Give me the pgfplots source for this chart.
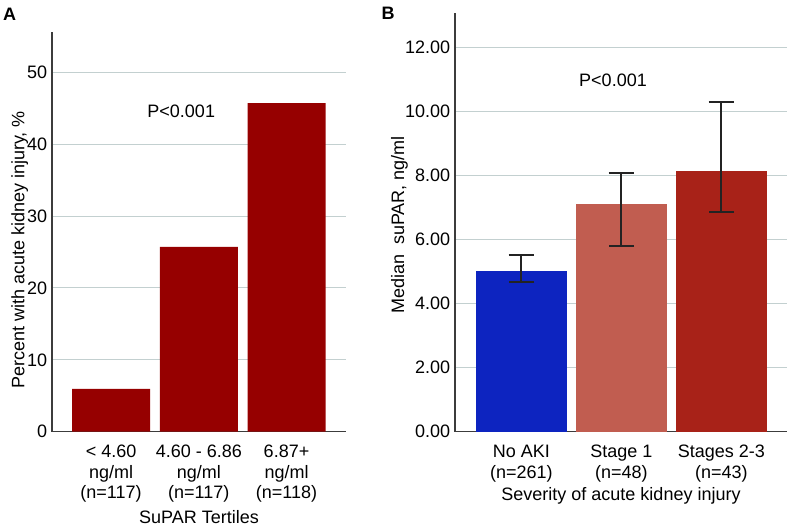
\documentclass[border=0pt]{standalone}
\usepackage{fontspec}
\setmainfont{Liberation Sans}
\usepackage{pgfplots}
\pgfplotsset{compat=1.18}
\definecolor{barA}{RGB}{150,0,0}
\definecolor{noaki}{RGB}{13,36,192}
\definecolor{stageone}{RGB}{193,93,80}
\definecolor{stagetwo}{RGB}{168,34,24}
\definecolor{gridc}{RGB}{195,208,208}
\definecolor{axisc}{RGB}{60,60,60}
\definecolor{errc}{RGB}{35,35,35}
\newcommand{\lbl}{\fontsize{18bp}{20.5bp}\selectfont}

\pgfplotsset{
  panel/.style={
    scale only axis,
    axis x line*=bottom, axis y line*=left,
    axis line style={-, axisc, line width=1.5bp},
    ymajorgrids, grid style={gridc, line width=1bp},
    major tick length=0pt,
    xtick={0,1,2}, ymin=0,
    tick label style={font=\lbl},
    xticklabel style={align=center, yshift=-10bp},
    yticklabel style={xshift=-1.3bp},
    label style={font=\lbl},
    /pgf/number format/assume math mode=true,
    ybar, bar shift=0pt,
  },
  errs/.style={
    error bars/.cd, y dir=both, y explicit,
    error mark=|,
    error bar style={draw=errc, line width=1.8bp},
    error mark options={draw=errc, line width=1.8bp, mark size=12.7bp},
  },
}

\begin{document}
\begin{tikzpicture}
\path[use as bounding box] (0,0) rectangle (787bp,527bp);

% panel A
\begin{axis}[panel,
  at={(52bp,95.3bp)}, anchor=south west,
  width=294bp, height=399.7bp,
  xmin=-0.673, xmax=2.678, ymax=55.6,
  ytick={0,10,...,50},
  bar width=0.889,
  xticklabels={{< 4.60\\ng/ml\\(n=117)},{4.60 - 6.86\\ng/ml\\(n=117)},{6.87+\\ng/ml\\(n=118)}},
  xlabel={SuPAR Tertiles},
  ylabel={Percent with acute kidney injury, \%},
  xlabel style={at={(axis description cs:0.5,-0.2134)}, anchor=center},
  ylabel style={at={(axis description cs:-0.11,0.4546)}, anchor=center},
]
\addplot[fill=barA, draw=none] coordinates {(0,5.97) (1,25.7) (2,45.7)};
\node[font=\lbl] at (axis cs:0.8,44.5) {P<0.001};
\end{axis}

% panel B
\begin{axis}[panel,
  at={(455bp,95.3bp)}, anchor=south west,
  width=332bp, height=418.7bp,
  xmin=-0.663, xmax=2.657, ymax=13.08,
  ytick={0,2,...,12},
  yticklabels={0.00,2.00,4.00,6.00,8.00,10.00,12.00},
  bar width=0.907,
  xticklabels={{No AKI\\(n=261)},{Stage 1\\(n=48)},{Stages 2-3\\(n=43)}},
  xlabel={Severity of acute kidney injury},
  ylabel={Median\ \ suPAR, ng/ml},
  xlabel style={at={(axis description cs:0.5,-0.1524)}, anchor=center},
  ylabel style={at={(axis description cs:-0.167,0.494)}, anchor=center},
]
\addplot[fill=noaki, draw=none, errs] coordinates {(0,5.02) += (0,0.50) -= (0,0.35)};
\addplot[fill=stageone, draw=none, errs] coordinates {(1,7.12) += (0,0.97) -= (0,1.31)};
\addplot[fill=stagetwo, draw=none, errs] coordinates {(2,8.14) += (0,2.15) -= (0,1.27)};
\node[font=\lbl] at (axis cs:0.917,10.99) {P<0.001};
\end{axis}

\node[font=\fontsize{18bp}{20bp}\selectfont\bfseries] at (9.5bp,512.5bp) {A};
\node[font=\fontsize{18bp}{20bp}\selectfont\bfseries] at (388bp,514bp) {B};
\end{tikzpicture}
\end{document}
